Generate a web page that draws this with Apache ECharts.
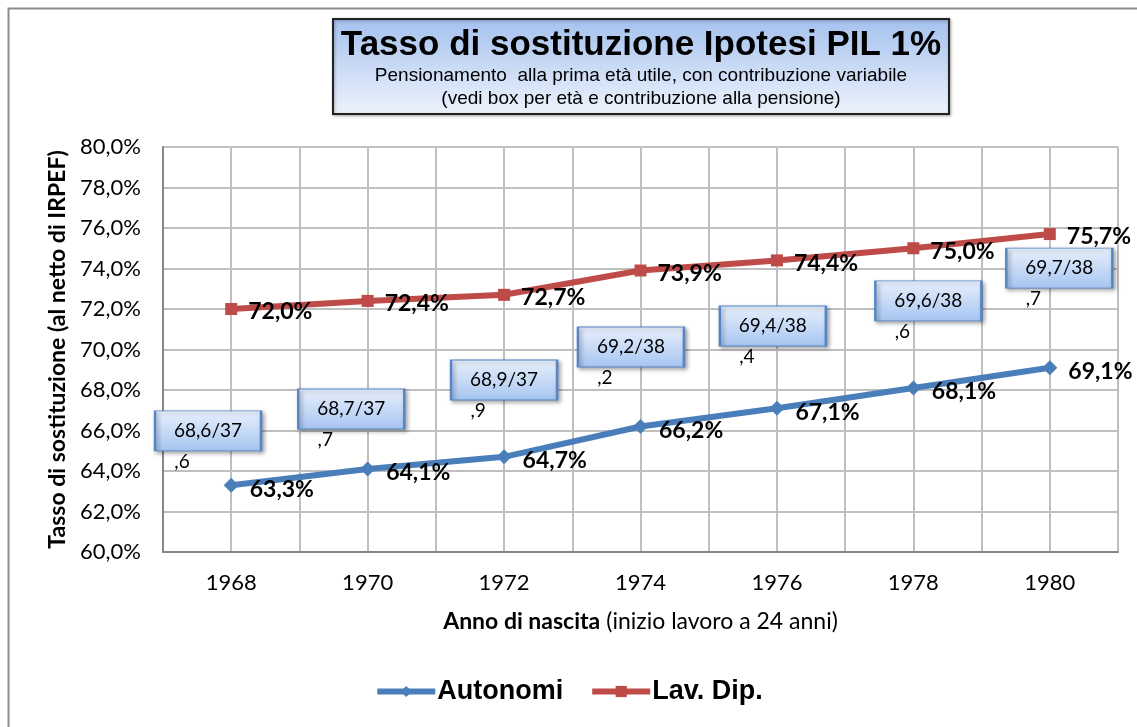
<!DOCTYPE html>
<html>
<head>
<meta charset="utf-8">
<script src="https://cdn.jsdelivr.net/npm/echarts@6/dist/echarts.min.js"></script>
<style>html,body{margin:0;padding:0;background:#fff;}#c{width:1137px;height:727px;}</style>
</head>
<body>
<div id="c"></div>
<script>
// ---- data ----
const years = ['1968', '1970', '1972', '1974', '1976', '1978', '1980'];
const autonomi = [63.3, 64.1, 64.7, 66.2, 67.1, 68.1, 69.1];
const lavDip = [72.0, 72.4, 72.7, 73.9, 74.4, 75.0, 75.7];
const yTicks = { min: 60, max: 80, step: 2 };
// callout boxes (age / contribution years) and their stray suffix text
const boxLabels = ['68,6/37', '68,7/37', '68,9/37', '69,2/38', '69,4/38', '69,6/38', '69,7/38'];
const boxSuffix = [',6', ',7', ',9', ',2', ',4', ',6', ',7'];
// annotation anchors in data units (category index, value)
const boxAnchorX = [-0.17, 0.88, 2.0, 2.93, 3.97, 5.11, 6.07];
const boxAnchorY = [65.98, 67.06, 68.49, 70.12, 71.16, 72.40, 74.02];

const fmtPct = v => v.toFixed(1).replace('.', ',') + '%';
const chart = echarts.init(document.getElementById('c'));
const labelFont = 'Lato, "Open Sans", sans-serif';

const boxData = boxLabels.map((t, i) => ({ value: [boxAnchorX[i], boxAnchorY[i]], name: t }));
const suffixData = boxSuffix.map((t, i) => ({ value: [boxAnchorX[i], boxAnchorY[i]], name: t }));

chart.setOption({
  animation: false,
  backgroundColor: '#fff',
  grid: { left: 163, right: 19, top: 147, bottom: 175 },
  legend: {
    top: 673,
    left: 'center',
    itemWidth: 58,
    itemHeight: 14,
    itemGap: 26,
    lineStyle: { width: 6 },
    textStyle: { fontFamily: '"Liberation Sans", Arial, sans-serif', fontWeight: 'bold', fontSize: 27, color: '#000', padding: [0, 0, 0, -3] },
    data: ['Autonomi', 'Lav. Dip.']
  },
  xAxis: [
    {
      type: 'category',
      data: years,
      boundaryGap: true,
      axisLine: { lineStyle: { color: '#868686', width: 2 } },
      axisTick: { show: false },
      axisLabel: { fontFamily: labelFont, fontSize: 22, color: '#000', margin: 20 },
      splitLine: { show: false },
      name: '{b|Anno di nascita}{n|(inizio lavoro a 24 anni)}',
      nameLocation: 'middle',
      nameGap: 58,
      nameTextStyle: {
        rich: {
          b: { fontFamily: labelFont, fontWeight: 'bold', fontSize: 23, color: '#000' },
          n: { fontFamily: labelFont, fontSize: 23, color: '#000', padding: [0, 0, 0, 6] }
        }
      }
    },
    {
      type: 'value',
      min: -0.5, max: 6.5, interval: 0.5,
      position: 'bottom',
      show: true,
      axisLine: { show: false },
      axisTick: { show: false },
      axisLabel: { show: false },
      splitLine: { show: true, lineStyle: { color: '#bfbfbf', width: 2 } }
    }
  ],
  yAxis: {
    type: 'value',
    min: yTicks.min, max: yTicks.max, interval: yTicks.step,
    axisLine: { show: true, onZero: false, lineStyle: { color: '#868686', width: 2 } },
    axisTick: { show: false },
    axisLabel: { formatter: v => fmtPct(v), fontFamily: labelFont, fontSize: 22, color: '#000', margin: 22 },
    splitLine: { lineStyle: { color: '#bfbfbf', width: 2 } },
    name: 'Tasso di sostituzione (al netto di IRPEF)',
    nameLocation: 'middle',
    nameGap: 93,
    nameTextStyle: { fontFamily: labelFont, fontWeight: 'bold', fontSize: 23, color: '#000' }
  },
  series: [
    {
      name: 'Autonomi', type: 'line', xAxisIndex: 0, data: autonomi,
      symbol: 'diamond', symbolSize: 15,
      lineStyle: { color: '#4a7ebb', width: 6 },
      itemStyle: { color: '#4a7ebb' },
      label: { show: true, position: 'right', distance: 8, offset: [3, 4], formatter: p => fmtPct(p.value),
               fontFamily: labelFont, fontWeight: 'bold', fontSize: 23, color: '#000' },
      z: 3
    },
    {
      name: 'Lav. Dip.', type: 'line', xAxisIndex: 0, data: lavDip,
      symbol: 'rect', symbolSize: 12,
      lineStyle: { color: '#be4b48', width: 6 },
      itemStyle: { color: '#be4b48' },
      label: { show: true, position: 'right', distance: 8, offset: [3, 3], formatter: p => fmtPct(p.value),
               fontFamily: labelFont, fontWeight: 'bold', fontSize: 23, color: '#000' },
      z: 3
    },
    {
      name: 'boxes', type: 'scatter', xAxisIndex: 1, yAxisIndex: 0, data: boxData,
      symbol: 'rect', symbolSize: [106, 40],
      itemStyle: {
        opacity: 1,
        color: new echarts.graphic.LinearGradient(0, 0, 0, 1, [
          { offset: 0, color: '#e8f0fc' }, { offset: 1, color: '#a6c5f1' }
        ]),
        borderColor: '#5585c8', borderWidth: 1.5,
        shadowColor: 'rgba(0,0,0,0.35)', shadowBlur: 4, shadowOffsetX: 2, shadowOffsetY: 2
      },
      label: { show: true, position: 'inside', formatter: p => p.name, fontFamily: labelFont, fontSize: 19, color: '#000', opacity: 1 },
      emphasis: { disabled: true },
      silent: true, z: 5
    },
    {
      name: 'suffix', type: 'scatter', xAxisIndex: 1, yAxisIndex: 0, data: suffixData,
      symbolSize: 1, itemStyle: { color: 'rgba(0,0,0,0)', opacity: 1 },
      label: { show: true, position: 'inside', offset: [-26, 31], formatter: p => p.name, fontFamily: labelFont, fontSize: 19, color: '#000', opacity: 1 },
      emphasis: { disabled: true },
      silent: true, z: 5
    }
  ],
  graphic: [
    { type: 'rect', left: 6, top: 6, shape: { width: 1140, height: 730 }, style: { fill: 'none', stroke: '#8c8c8c', lineWidth: 2 }, z: 0, silent: true },
    {
      type: 'group', left: 332, top: 18, z: 10,
      children: [
        { type: 'rect', shape: { x: 0, y: 0, width: 616, height: 95 },
          style: { fill: new echarts.graphic.LinearGradient(0, 0, 0, 1, [
            { offset: 0, color: '#a4c1ee' }, { offset: 1, color: '#eef3fc' }]),
            stroke: '#222', lineWidth: 2, shadowColor: 'rgba(0,0,0,0.3)', shadowBlur: 3, shadowOffsetX: 1, shadowOffsetY: 1 } },
        { type: 'text', x: 308, y: 26, style: { text: 'Tasso di sostituzione Ipotesi PIL 1%', align: 'center', verticalAlign: 'middle',
            font: 'bold 35px "Liberation Sans", Arial, sans-serif', fill: '#000' } },
        { type: 'text', x: 308, y: 57, style: { text: 'Pensionamento  alla prima età utile, con contribuzione variabile', align: 'center', verticalAlign: 'middle',
            font: '19px "Liberation Sans", Arial, sans-serif', fill: '#000' } },
        { type: 'text', x: 308, y: 80, style: { text: '(vedi box per età e contribuzione alla pensione)', align: 'center', verticalAlign: 'middle',
            font: '19px "Liberation Sans", Arial, sans-serif', fill: '#000' } }
      ]
    }
  ]
});
</script>
</body>
</html>
